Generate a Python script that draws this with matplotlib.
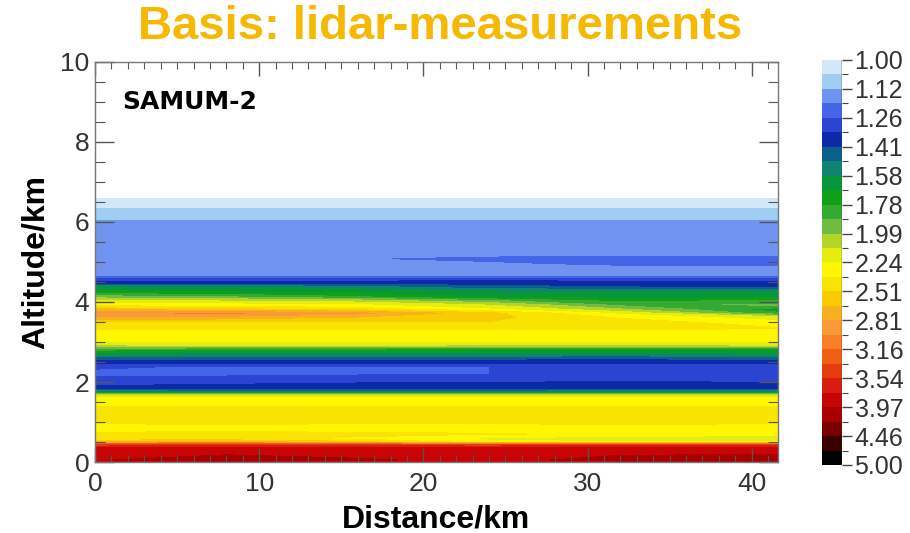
import matplotlib
matplotlib.use('Agg')
import matplotlib.pyplot as plt
import numpy as np
from matplotlib import font_manager
from matplotlib.colors import ListedColormap, BoundaryNorm
from matplotlib.ticker import MultipleLocator

# lidar cross section (layer values per distance column)
distance_km = [0, 8, 16, 24, 32, 41.6]
altitude_km = [0.00, 0.05, 0.20, 0.35, 0.43, 0.50, 0.58, 0.70, 0.85, 1.00,
               1.15, 1.30, 1.42, 1.58, 1.68, 1.75, 1.82, 1.92, 2.05, 2.20,
               2.38, 2.50, 2.60, 2.72, 2.83, 2.93, 3.05, 3.20, 3.35, 3.48,
               3.62, 3.72, 3.82, 3.93, 4.03, 4.12, 4.25, 4.36, 4.46, 4.56,
               4.65, 4.85, 4.96, 5.08, 5.20, 6.00, 6.08, 6.32, 6.40, 6.60,
               6.64, 10.0]

profile_0km = [3.80, 3.95, 3.85, 3.75, 3.40, 2.70, 2.38, 2.40, 2.30, 2.40,
               2.50, 2.45, 2.35, 2.30, 2.05, 1.55, 1.40, 1.33, 1.30, 1.24,
               1.27, 1.36, 1.45, 1.62, 1.85, 2.12, 2.28, 2.30, 2.40, 2.45,
               2.80, 2.95, 2.60, 2.30, 2.15, 1.95, 1.70, 1.62, 1.38, 1.30,
               1.16, 1.15, 1.15, 1.17, 1.15, 1.15, 1.09, 1.09, 1.03, 1.03,
               0.50, 0.50]
profile_8km = [3.90, 4.10, 3.95, 3.80, 3.50, 2.75, 2.40, 2.42, 2.30, 2.42,
               2.50, 2.45, 2.35, 2.30, 2.05, 1.55, 1.38, 1.34, 1.30, 1.24,
               1.25, 1.36, 1.45, 1.60, 1.80, 2.15, 2.30, 2.30, 2.40, 2.45,
               2.75, 3.00, 2.55, 2.28, 2.10, 1.90, 1.68, 1.60, 1.38, 1.30,
               1.16, 1.15, 1.15, 1.17, 1.15, 1.15, 1.09, 1.09, 1.03, 1.03,
               0.50, 0.50]
profile_16km = [3.85, 4.00, 3.90, 3.80, 3.45, 2.55, 2.35, 2.40, 2.30, 2.40,
                2.48, 2.45, 2.35, 2.30, 2.05, 1.52, 1.38, 1.35, 1.31, 1.25,
                1.25, 1.36, 1.45, 1.60, 1.80, 2.15, 2.30, 2.30, 2.40, 2.45,
                2.65, 2.85, 2.45, 2.25, 2.05, 1.80, 1.65, 1.55, 1.38, 1.30,
                1.16, 1.15, 1.15, 1.18, 1.15, 1.15, 1.09, 1.09, 1.03, 1.03,
                0.50, 0.50]
profile_24km = [3.80, 3.90, 3.85, 3.75, 3.40, 2.30, 2.20, 2.38, 2.30, 2.40,
                2.48, 2.46, 2.35, 2.30, 2.05, 1.55, 1.38, 1.35, 1.32, 1.26,
                1.26, 1.36, 1.43, 1.60, 1.75, 2.12, 2.28, 2.30, 2.40, 2.50,
                2.55, 2.55, 2.25, 2.10, 1.90, 1.68, 1.62, 1.45, 1.38, 1.32,
                1.16, 1.15, 1.17, 1.21, 1.15, 1.15, 1.09, 1.09, 1.03, 1.03,
                0.50, 0.50]
profile_32km = [3.90, 4.05, 3.95, 3.85, 3.50, 2.25, 2.12, 2.35, 2.30, 2.42,
                2.50, 2.45, 2.35, 2.30, 2.05, 1.55, 1.40, 1.36, 1.32, 1.28,
                1.27, 1.36, 1.42, 1.58, 1.75, 2.10, 2.28, 2.30, 2.40, 2.45,
                2.35, 2.20, 2.00, 1.85, 1.75, 1.65, 1.60, 1.42, 1.37, 1.30,
                1.17, 1.15, 1.21, 1.22, 1.15, 1.15, 1.09, 1.09, 1.03, 1.03,
                0.50, 0.50]
profile_42km = [4.00, 4.15, 3.95, 3.80, 3.45, 2.25, 2.10, 2.32, 2.30, 2.40,
                2.48, 2.45, 2.33, 2.30, 2.05, 1.55, 1.40, 1.35, 1.32, 1.30,
                1.28, 1.36, 1.45, 1.62, 1.70, 2.15, 2.28, 2.30, 2.38, 2.30,
                2.15, 1.80, 1.72, 1.90, 1.80, 1.65, 1.60, 1.40, 1.37, 1.28,
                1.18, 1.15, 1.22, 1.22, 1.15, 1.15, 1.09, 1.09, 1.03, 1.03,
                0.50, 0.50]

# colour scale (labels as printed on the colour bar)
tick_labels = ['1.00', '1.12', '1.26', '1.41', '1.58', '1.78', '1.99', '2.24',
               '2.51', '2.81', '3.16', '3.54', '3.97', '4.46', '5.00']
level_colors = ['#d2e8f8', '#a0cdf2', '#6f93ee', '#4565e8', '#2b45d2', '#0c2aa8',
                '#0b5f8a', '#108470', '#08963a', '#10a018', '#34aa34', '#70bc40',
                '#b4d428', '#e4ec10', '#fff700', '#f9e400', '#f8cc00', '#f8b020',
                '#f89a38', '#f87e28', '#f05e14', '#e43c10', '#d81c10', '#c80404',
                '#a80000', '#780000', '#380000', '#000000']

names = {f.name for f in font_manager.fontManager.ttflist}
narrow = 'Liberation Sans Narrow' if 'Liberation Sans Narrow' in names else 'Liberation Sans'

major = np.array([float(t) for t in tick_labels])
minor = np.sqrt(major[:-1] * major[1:])
bounds = np.sort(np.concatenate([major, minor]))

cmap = ListedColormap(level_colors)
norm = BoundaryNorm(bounds, cmap.N)

Z = np.column_stack([profile_0km, profile_8km, profile_16km,
                     profile_24km, profile_32km, profile_42km])

fig = plt.figure(figsize=(9.1, 5.33), dpi=100)
ax = fig.add_axes([0.1044, 0.1332, 0.7505, 0.7505])
cs = ax.contourf(distance_km, altitude_km, Z, levels=bounds, cmap=cmap, norm=norm)

ax.set_xlim(0, 41.6)
ax.set_ylim(0, 10)
ax.xaxis.set_major_locator(MultipleLocator(10))
ax.xaxis.set_minor_locator(MultipleLocator(1))
ax.yaxis.set_major_locator(MultipleLocator(2))
ax.yaxis.set_minor_locator(MultipleLocator(0.5))
ax.tick_params(which='both', direction='in', top=True, right=True, color='#555555')
ax.tick_params(axis='x', which='major', length=10, width=1)
ax.tick_params(axis='x', which='minor', length=5, width=0.8)
ax.tick_params(axis='y', which='major', length=14, width=1)
ax.tick_params(axis='y', which='minor', length=7, width=0.8)
ax.tick_params(axis='x', pad=7)
ax.tick_params(axis='y', pad=4)
for lab in ax.get_xticklabels() + ax.get_yticklabels():
    lab.set_fontfamily(narrow)
    lab.set_fontsize(19)
    lab.set_color('#333333')
for sp in ax.spines.values():
    sp.set_color('#777777')
    sp.set_linewidth(1)

ax.set_xlabel('Distance/km', fontsize=23, fontweight='bold', family='Liberation Sans')
ax.set_ylabel('Altitude/km', fontsize=23, fontweight='bold', family='Liberation Sans')
ax.xaxis.set_label_coords(0.5, -0.105)
ax.yaxis.set_label_coords(-0.065, 0.5)

ax.text(1.65, 9.0, 'SAMUM-2', fontsize=18, fontweight='bold', family='DejaVu Sans',
        va='center', ha='left')

fig.text(0.4835, 0.949, 'Basis: lidar-measurements', fontsize=34, fontweight='bold',
         color='#F6B800', ha='center', va='center', family='Liberation Sans')

cax = fig.add_axes([0.9033, 0.1276, 0.022, 0.760])
cbar = fig.colorbar(cs, cax=cax)
cbar.set_ticks(major, labels=tick_labels)
cbar.set_ticks(minor, minor=True)
cax.invert_yaxis()
cbar.outline.set_visible(False)
cax.axvline(1.0, color='#444444', lw=1)
cax.tick_params(which='major', length=7, width=1, color='#444444', pad=2)
cax.tick_params(which='minor', length=4, width=0.8, color='#444444')
for lab in cax.get_yticklabels():
    lab.set_fontfamily(narrow)
    lab.set_fontsize(18)
    lab.set_color('#333333')

fig.savefig('out.png', dpi=100)
